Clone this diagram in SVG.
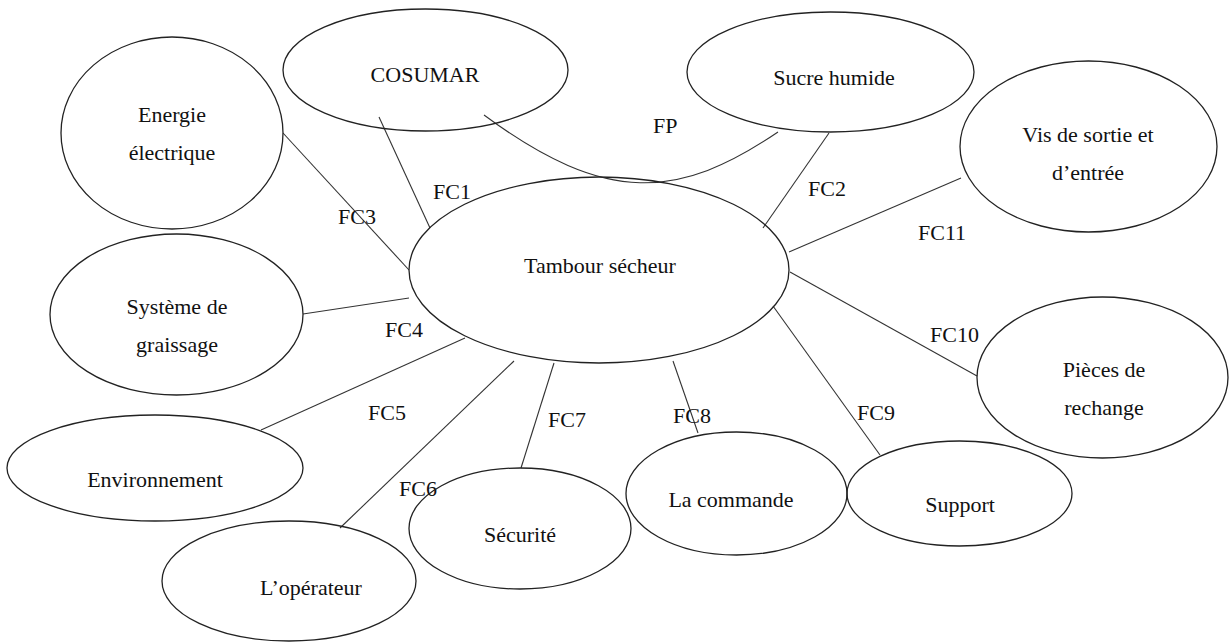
<svg xmlns="http://www.w3.org/2000/svg" width="1231" height="642" viewBox="0 0 1231 642">
  <style>
    .node { fill: none; stroke: #222; stroke-width: 1.3; }
    .link { fill: none; stroke: #333; stroke-width: 1.1; }
    text { font-family: 'Liberation Serif', 'Times New Roman', serif; font-size: 22px; fill: #111; }
    .c { text-anchor: middle; }
  </style>
  <rect width="1231" height="642" fill="#fff"/>

  <!-- connectors and their function labels -->
  <g id="connectors">
    <path class="link" d="M484,115 C607,206 679,199 778,132"/>
    <line class="link" x1="379" y1="117" x2="430" y2="228"/>
    <line class="link" x1="829" y1="133" x2="763" y2="228"/>
    <line class="link" x1="283" y1="133" x2="409" y2="270"/>
    <line class="link" x1="303" y1="314" x2="409" y2="298"/>
    <line class="link" x1="465" y1="338" x2="261" y2="430"/>
    <line class="link" x1="514" y1="361" x2="340" y2="528"/>
    <line class="link" x1="554" y1="363" x2="521" y2="468"/>
    <line class="link" x1="673" y1="361" x2="698" y2="433"/>
    <line class="link" x1="773" y1="306" x2="880" y2="455"/>
    <line class="link" x1="790" y1="272" x2="977" y2="376"/>
    <line class="link" x1="789" y1="252" x2="961" y2="178"/>
    <text x="653" y="133">FP</text>
    <text x="433" y="199">FC1</text>
    <text x="808" y="196">FC2</text>
    <text x="338" y="224">FC3</text>
    <text x="385" y="337">FC4</text>
    <text x="368" y="420">FC5</text>
    <text x="399" y="496">FC6</text>
    <text x="548" y="427">FC7</text>
    <text x="673" y="423">FC8</text>
    <text x="857" y="420">FC9</text>
    <text x="930" y="342">FC10</text>
    <text x="918" y="240">FC11</text>
  </g>

  <g id="tambour">
    <ellipse class="node" cx="599" cy="270" rx="190" ry="93"/>
    <text class="c" x="600" y="273">Tambour sécheur</text>
  </g>
  <g id="cosumar">
    <ellipse class="node" cx="425.5" cy="70" rx="142.5" ry="61"/>
    <text class="c" x="425" y="82">COSUMAR</text>
  </g>
  <g id="sucre">
    <ellipse class="node" cx="830.5" cy="72" rx="143.5" ry="60"/>
    <text class="c" x="834" y="85">Sucre humide</text>
  </g>
  <g id="energie">
    <ellipse class="node" cx="172" cy="133" rx="111" ry="96"/>
    <text class="c" x="172" y="122">Energie</text>
    <text class="c" x="172" y="160">électrique</text>
  </g>
  <g id="vis">
    <ellipse class="node" cx="1088.5" cy="146.5" rx="128.5" ry="85.5"/>
    <text class="c" x="1088" y="142">Vis de sortie et</text>
    <text class="c" x="1088" y="180">d’entrée</text>
  </g>
  <g id="graissage">
    <ellipse class="node" cx="176.5" cy="314.5" rx="126.5" ry="80.5"/>
    <text class="c" x="177" y="314">Système de</text>
    <text class="c" x="177" y="352">graissage</text>
  </g>
  <g id="pieces">
    <ellipse class="node" cx="1102.5" cy="377.5" rx="125.5" ry="80.5"/>
    <text class="c" x="1104" y="377">Pièces de</text>
    <text class="c" x="1104" y="415">rechange</text>
  </g>
  <g id="environnement">
    <ellipse class="node" cx="155" cy="468" rx="148" ry="53"/>
    <text class="c" x="155" y="487">Environnement</text>
  </g>
  <g id="operateur">
    <ellipse class="node" cx="289" cy="581" rx="127" ry="60"/>
    <text class="c" x="311" y="595">L’opérateur</text>
  </g>
  <g id="securite">
    <ellipse class="node" cx="520" cy="528.5" rx="111" ry="60.5"/>
    <text class="c" x="520" y="542">Sécurité</text>
  </g>
  <g id="commande">
    <ellipse class="node" cx="736.5" cy="493.5" rx="110.5" ry="61.5"/>
    <text class="c" x="731" y="507">La commande</text>
  </g>
  <g id="support">
    <ellipse class="node" cx="959.5" cy="493.5" rx="112.5" ry="52.5"/>
    <text class="c" x="960" y="512">Support</text>
  </g>
</svg>
